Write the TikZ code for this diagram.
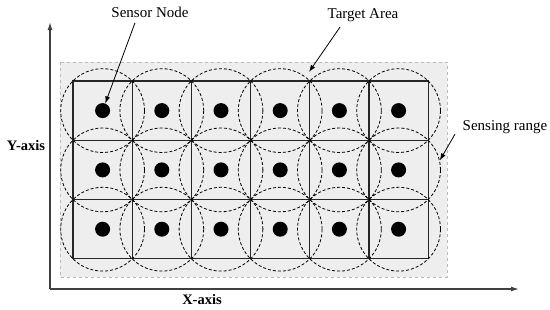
\documentclass[tikz,border=0pt]{standalone}
\usepackage{fontspec}
\setmainfont{Liberation Serif}
\usetikzlibrary{arrows.meta, positioning, calc}
\tikzset{
  area/.style={draw=gray!55, dashed, fill=gray!13, line width=0.6pt},
  cell/.style={draw=black!85, line width=1.2pt},
  senserange/.style={circle, draw, dashed, dash pattern=on 3pt off 2pt, line width=0.8pt,
    minimum size=83.8pt, inner sep=0pt},
  sensor/.style={circle, fill=black, minimum size=15pt, inner sep=0pt},
  lbl/.style={font=\fontsize{15}{18}\selectfont},
  axlbl/.style={font=\fontsize{14.5}{17}\selectfont\bfseries},
  arrow/.style={-{Latex[length=7pt,width=5pt]}, line width=0.8pt},
  axis/.style={-{Latex[length=8pt,width=5pt]}, line width=1.3pt, draw=black!75}
}
\begin{document}
\begin{tikzpicture}[x=1pt, y=-1pt]
  \useasboundingbox (0,0) rectangle (550,310);

  % === Target area ===
  \draw[area] (60,62) rectangle (447,277);

  % grid cells
  \foreach \i in {1,...,6} {
    \foreach \j in {1,2,3} {
      \draw[cell] ({73+59.2*(\i-1)},{81+59.3*(\j-1)}) rectangle ++(59.2,59.3);
    }
  }

  % sensing ranges and sensor nodes
  \foreach \i in {1,...,6} {
    \foreach \j in {1,2,3} {
      \node[senserange] (r-\i-\j) at ({102.6+59.2*(\i-1)},{110.6+59.3*(\j-1)}) {};
      \node[sensor] (s-\i-\j) at (r-\i-\j) {};
    }
  }

  % === Axes ===
  \coordinate (o) at (50,289);
  \coordinate (ytop) at (50,22);
  \coordinate (xend) at (519,289);
  \draw[axis] (o) -- (ytop);
  \draw[axis] (o) -- (xend);
  \node[axlbl] (ylab) at (26,146) {Y-axis};
  \node[axlbl] (xlab) at (202,300) {X-axis};

  % === Labels ===
  \node[lbl] (snlabel) at (150,12) {Sensor Node};
  \draw[arrow] ([xshift=-15pt,yshift=-2pt]snlabel.south) -- (s-1-1);

  \node[lbl] (talabel) at (363,15) {Target Area};
  \coordinate (tatip) at (309,72);
  \draw[arrow] ([xshift=-23pt,yshift=-2pt]talabel.south) -- (tatip);

  \node[lbl] (srlabel) at (505,127) {Sensing range};
  \draw[arrow] ([xshift=-50pt,yshift=3pt]srlabel.south) -- (r-6-2.13);
\end{tikzpicture}
\end{document}
